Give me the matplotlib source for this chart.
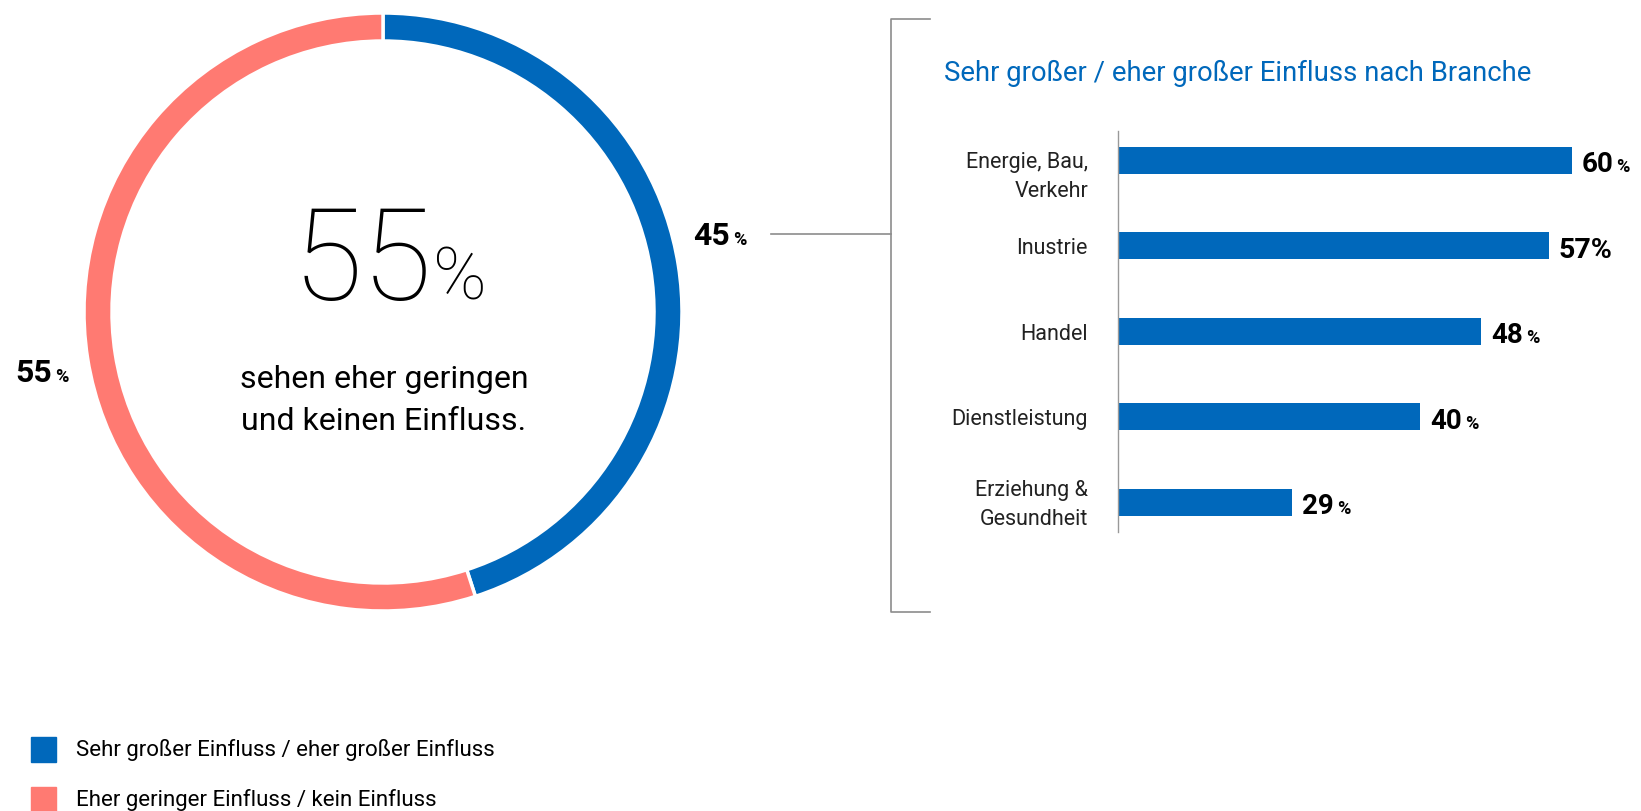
import matplotlib.pyplot as plt
from matplotlib.patches import Rectangle

# Daten
anteil_labels = ['Sehr großer Einfluss / eher großer Einfluss',
                 'Eher geringer Einfluss / kein Einfluss']
anteil_werte = [45, 55]
farben = ['#0068bb', '#ff7a72']

branchen = ['Energie, Bau,\nVerkehr', 'Inustrie', 'Handel', 'Dienstleistung',
            'Erziehung &\nGesundheit']
branchen_werte = [60, 57, 48, 40, 29]
# Balkenlänge wie im Bild gezeichnet (der 29%-Balken ist kürzer dargestellt)
balken_laenge = [60, 57, 48, 40, 23]
prozent_klein = [True, False, True, True, True]

titel = 'Sehr großer / eher großer Einfluss nach Branche'
mitte_zahl = '55'
mitte_text = ['sehen eher geringen', 'und keinen Einfluss.']

# vertikaler Versatz der Kategorienbeschriftung (Pixel)
label_versatz = [-17, -3, -3, -3, -3]

W, H = 1641, 811
plt.rcParams['font.family'] = ['Roboto', 'DejaVu Sans']
fig = plt.figure(figsize=(W / 100, H / 100), dpi=100)


def rect(left, top, width, height):
    return [left / W, (H - top - height) / H, width / W, height / H]


# Donut
ax1 = fig.add_axes(rect(83, 12, 600, 600))
ax1.pie(anteil_werte, colors=farben, startangle=90, counterclock=False,
        radius=299, wedgeprops=dict(width=28, edgecolor='white', linewidth=2.5))
ax1.set_xlim(-300, 300)
ax1.set_ylim(-300, 300)
ax1.set_aspect('equal')
ax1.axis('off')

# Balken
ax2 = fig.add_axes(rect(1118, 131, 520, 401))
pos = list(range(len(branchen)))
ax2.barh(pos, balken_laenge, height=0.316, color=farben[0])
ax2.set_xlim(0, 520 / 7.56)
ax2.set_ylim(4.35, -0.34)
ax2.set_yticks([])
ax2.set_xticks([])
for i, lab in enumerate(branchen):
    ax2.annotate(lab, xy=(0, i), xytext=(-30, label_versatz[i]),
                 textcoords='offset pixels', ha='right', va='center',
                 fontsize=15.5, color='#222222', linespacing=1.45,
                 annotation_clip=False)
for s in ['top', 'right', 'bottom']:
    ax2.spines[s].set_visible(False)
ax2.spines['left'].set_color('#999999')
ax2.spines['left'].set_linewidth(1)
ax2.patch.set_alpha(0)

# Overlay in Pixelkoordinaten
ov = fig.add_axes([0, 0, 1, 1])
ov.set_xlim(0, W)
ov.set_ylim(H, 0)
ov.axis('off')
ov.patch.set_alpha(0)

renderer = fig.canvas.get_renderer()


def zwei_teile(x, y, gross, klein, fs_g, fs_k, weight='bold', gap=3):
    t = ov.text(x, y, gross, fontsize=fs_g, fontweight=weight, va='baseline',
                ha='left', color='black')
    bb = t.get_window_extent(renderer)
    x2 = ov.transData.inverted().transform((bb.x1, 0))[0]
    ov.text(x2 + gap, y, klein, fontsize=fs_k, fontweight=weight,
            va='baseline', ha='left', color='black')


# Donut-Beschriftungen
zwei_teile(693, 245, f'{anteil_werte[0]}', '%', 23, 13)
zwei_teile(15, 382, f'{anteil_werte[1]}', '%', 23, 13)

zwei_teile(293, 300, mitte_zahl, '%', 92, 52, weight='light', gap=0)
ov.text(384, 380, mitte_text[0], fontsize=23, ha='center', va='center',
        color='black')
ov.text(384, 421, mitte_text[1], fontsize=23, ha='center', va='center',
        color='black')

# Verbindungslinie und Klammer
ov.plot([771, 891], [234, 234], color='#8c8c8c', lw=1.2)
ov.plot([930, 891, 891, 930], [19, 19, 612, 612], color='#8c8c8c', lw=1.2)

ov.text(944, 73, titel, fontsize=19.8, color=farben[0], ha='left', va='center')

# Werte an den Balken
for i, (laenge, wert, klein) in enumerate(zip(balken_laenge, branchen_werte,
                                              prozent_klein)):
    xp, yp = ax2.transData.transform((laenge, i))
    xo, yo = ov.transData.inverted().transform((xp, yp))
    if klein:
        zwei_teile(xo + 10, yo + 12, f'{wert}', '%', 20, 13, gap=3)
    else:
        ov.text(xo + 10, yo + 12, f'{wert}%', fontsize=20.5, fontweight='bold',
                va='baseline', ha='left', color='black')

# Legende
for k, (lab, col) in enumerate(zip(anteil_labels, farben)):
    y0 = 737 + k * 50
    ov.add_patch(Rectangle((31, y0), 25, 25, color=col))
    ov.text(76, y0 + 13, lab, fontsize=16, va='center', ha='left',
            color='black')

fig.savefig('out.png', dpi=100)
